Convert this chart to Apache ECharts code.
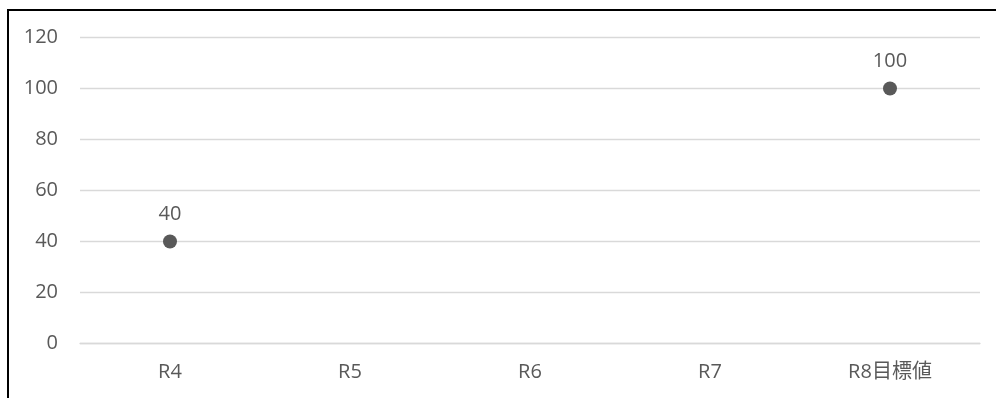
<!DOCTYPE html>
<html>
<head>
<meta charset="utf-8">
<script src="https://cdn.jsdelivr.net/npm/echarts@6/dist/echarts.min.js"></script>
<style>
  html, body { margin: 0; padding: 0; background: #fff; }
  #wrap { position: relative; width: 996px; height: 398px; overflow: hidden; }
  #chart { position: absolute; left: 0; top: 0; width: 996px; height: 398px; }
  #frame { position: absolute; left: 7px; top: 9px; width: 1000px; height: 400px;
           border-top: 2px solid #000; border-left: 2px solid #000; pointer-events: none; }
</style>
</head>
<body>
<div id="wrap">
  <div id="chart"></div>
  <div id="frame"></div>
</div>
<script>
// Rounds and their values (only R4 and the R8 target are filled in)
const categories = ['R4', 'R5', 'R6', 'R7', 'R8目標値'];
const values = [40, null, null, null, 100];
const yTicks = { min: 0, max: 120, interval: 20 };

const font = '"Open Sans", "Noto Sans CJK JP", sans-serif';
const grey = '#595959';

const chart = echarts.init(document.getElementById('chart'), null, { renderer: 'canvas' });
chart.setOption({
  animation: false,
  grid: { left: 80, right: 16, top: 37.5, bottom: 54.5, containLabel: false },
  xAxis: {
    type: 'category',
    data: categories,
    boundaryGap: true,
    axisLine: { show: true, lineStyle: { color: '#d9d9d9', width: 1.3 } },
    axisTick: { show: false },
    axisLabel: { color: grey, fontSize: 20, fontFamily: font, margin: 19 }
  },
  yAxis: {
    type: 'value',
    min: yTicks.min,
    max: yTicks.max,
    interval: yTicks.interval,
    axisLine: { show: false },
    axisTick: { show: false },
    splitLine: { lineStyle: { color: '#d9d9d9', width: 1.3 } },
    axisLabel: { color: grey, fontSize: 20, fontFamily: font, margin: 22 }
  },
  series: [{
    type: 'scatter',
    data: values,
    symbol: 'circle',
    symbolSize: 14,
    itemStyle: { color: grey, opacity: 1 },
    label: {
      show: true,
      position: 'top',
      distance: 10,
      color: grey,
      fontSize: 20,
      fontFamily: font
    }
  }]
});
</script>
</body>
</html>
